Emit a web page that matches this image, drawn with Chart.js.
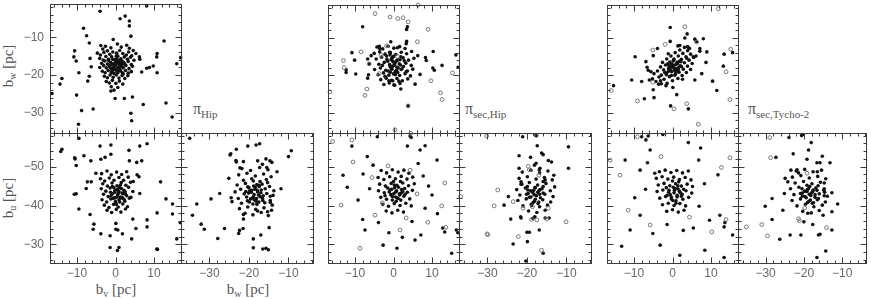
<!DOCTYPE html>
<html>
<head>
<meta charset="utf-8">
<script src="https://cdn.jsdelivr.net/npm/chart.js@4.4.1/dist/chart.umd.min.js"></script>
<style>
  html, body { margin: 0; padding: 0; background: #fff; }
  #wrap { position: relative; width: 871px; height: 299px; overflow: hidden; }
  #wrap canvas { position: absolute; left: 0; top: 0; }
  .t { position: absolute; font-family: "Liberation Serif", "DejaVu Serif", serif; color: #555;
       font-size: 15px; line-height: 1; white-space: nowrap; transform: translate(-50%, -50%); }
  .t sub { font-size: 10px; vertical-align: -3px; }
  .rot { transform: translate(-50%, -50%) rotate(-90deg); }
  .pi { position: absolute; font-family: "Liberation Serif", "DejaVu Serif", serif; color: #555;
        font-size: 16px; line-height: 1; white-space: nowrap; }
  .pi sub { font-size: 11px; vertical-align: -4px; }
</style>
</head>
<body>
<div id="wrap">
  <div class="t rot" style="left:9px;top:66px">b<sub>w</sub> [pc]</div>
  <div class="t rot" style="left:9px;top:198px">b<sub>u</sub> [pc]</div>
  <div class="t" style="left:116px;top:290px">b<sub>v</sub> [pc]</div>
  <div class="t" style="left:248px;top:290px">b<sub>w</sub> [pc]</div>
  <div class="pi" style="left:193px;top:101px">π<sub>Hip</sub></div>
  <div class="pi" style="left:465px;top:101px">π<sub>sec,Hip</sub></div>
  <div class="pi" style="left:748px;top:101px">π<sub>sec,Tycho-2</sub></div>
</div>
<script>
// axis ranges and tick labels
const bvRange = [-17, 17];
const bwRangeY = [-35.2, -1.2];
const bwRangeX = [-37.2, -3.8];
const buRange = [-58.8, -25.2];
const bvTicks = [-10, 0, 10];
const bwTicks = [-30, -20, -10];
const buTicks = [-50, -40, -30];

// Hipparcos parallaxes  [bv,bw] / [bv,bu] / [bw,bu]
const hipVW = [[-4.0,-3.1],[8.1,-1.7],[1.2,-5.1],[2.5,-4.4],[3.6,-5.7],[3.6,-7.0],[-8.3,-7.6],[-7.5,-9.6],[-6.8,-11.5],[-0.6,-10.6],[4.0,-9.7],[12.6,-11.0],[16.9,-15.4],[15.9,-17.0],[10.8,-14.3],[10.7,-15.2],[10.8,-19.4],[9.8,-17.6],[8.8,-18.0],[8.1,-18.2],[6.8,-19.2],[6.2,-15.2],[6.3,-15.8],[-10.6,-13.6],[-10.8,-15.2],[-10.2,-16.3],[-9.5,-19.4],[-13.9,-20.9],[-14.4,-22.4],[-16.5,-24.9],[-10.1,-25.3],[-7.2,-21.6],[-6.8,-20.3],[-6.3,-17.8],[-6.6,-15.6],[-8.8,-29.4],[-5.8,-29.0],[-9.6,-33.0],[-0.1,-26.2],[2.3,-26.2],[4.4,-25.8],[4.0,-30.1],[4.2,-32.1],[7.2,-27.8],[13.1,-27.4],[14.7,-31.1],[-1.2,-24.2],[-0.4,-24.0],
  [-3.8,-12.2],[-3.3,-13.1],[-2.6,-12.4],[-1.2,-12.8],[0.5,-11.8],[1.5,-12.6],[2.9,-12.1],[3.6,-12.9],[4.6,-13.5],[-4.7,-14.2],[-3.9,-14.7],[-3.0,-14.0],[-2.1,-13.6],[-1.5,-14.5],[-0.7,-13.9],[0.3,-14.2],[1.1,-13.5],[1.9,-14.3],[2.8,-14.7],[3.4,-13.9],[4.2,-14.9],[5.3,-14.3],[-4.1,-15.6],[-3.2,-16.0],[-2.5,-15.1],[-1.8,-15.8],[-1.0,-15.2],[-0.1,-15.9],[0.6,-15.0],[1.4,-15.7],[2.3,-15.2],[3.1,-15.8],[3.9,-15.3],[4.8,-16.1],[-3.6,-16.9],[-2.8,-16.3],[-2.1,-17.1],[-1.3,-16.6],[-0.6,-17.0],[0.2,-16.4],[0.9,-16.9],[1.7,-16.3],[2.4,-17.0],[3.3,-16.4],[4.1,-17.2],[-4.1,-18.0],[-3.1,-17.5],[-2.4,-18.1],[-1.6,-17.5],[-0.9,-18.2],[-0.1,-17.4],[0.6,-18.0],[1.3,-17.3],[2.0,-18.1],[2.7,-17.5],[3.5,-18.3],[4.4,-17.7],[-3.4,-19.0],[-2.7,-19.4],[-1.9,-18.8],[-1.1,-19.3],[-0.4,-18.6],[0.4,-19.2],[1.1,-18.5],[1.8,-19.4],[2.6,-18.8],[3.3,-19.5],[4.1,-19.1],[-2.9,-20.3],[-2.1,-20.7],[-1.4,-20.0],[-0.6,-20.6],[0.2,-20.0],[0.9,-20.8],[1.7,-20.1],[2.4,-20.9],[3.2,-20.2],[-2.4,-21.7],[-1.6,-22.1],[-0.8,-21.4],[0.1,-22.2],[1.0,-21.6],[1.9,-22.4],[-1.1,-23.1],[0.6,-23.3],[-0.3,-18.3],[0.7,-18.9],[-1.0,-17.2],[1.5,-16.9],[0.2,-15.0],[-0.4,-19.6],[0.9,-17.0],[-1.9,-16.1],[2.0,-19.7],[0.5,-16.2],
  [0.3,-17.0],[1.0,-17.6],[-0.5,-18.0],[0.8,-16.5],[-0.2,-16.8],[1.6,-17.8],[0.1,-18.6],[-1.0,-18.4],[1.3,-18.9],[0.6,-19.4],[-0.7,-15.9],[2.1,-16.6],[-1.5,-17.9],[0.4,-15.8],[1.9,-17.1],[-0.9,-19.0],[0.0,-17.3],[1.1,-16.1]];
const hipVU = [[-9.5,-57.3],[-14.2,-53.9],[-13.9,-54.5],[-10.5,-52.0],[-10.6,-52.3],[-10.2,-50.3],[-8.2,-52.8],[-6.4,-51.5],[-3.8,-51.9],[-2.7,-52.4],[-4.0,-55.3],[-1.2,-55.6],[-1.2,-53.2],[3.5,-54.2],[6.3,-55.3],[8.2,-55.9],[3.6,-51.5],[5.5,-51.1],[6.8,-51.5],[-5.1,-48.3],[-7.3,-46.1],[-6.3,-46.1],[-7.6,-44.4],[-10.2,-43.0],[-10.7,-42.9],[-9.5,-39.1],[-6.6,-37.7],[-5.6,-35.2],[-5.8,-33.9],[-3.8,-32.7],[-1.4,-32.2],[-1.4,-29.2],[0.5,-28.4],[0.9,-29.2],[0.1,-35.4],[0.1,-33.9],[0.6,-33.7],[1.8,-32.7],[4.2,-31.4],[4.5,-36.5],[5.3,-34.1],[8.2,-36.3],[8.2,-34.5],[6.3,-43.1],[5.6,-47.9],[6.1,-47.4],[11.7,-46.1],[13.1,-41.7],[14.8,-40.4],[10.8,-38.1],[14.8,-37.8],[16.8,-35.6],[15.9,-31.4],[10.7,-28.8],[10.9,-28.7],
  [-3.6,-48.2],[-2.2,-48.9],[-1.1,-47.9],[0.3,-48.6],[1.6,-48.0],[2.9,-48.7],[-3.9,-46.9],[-2.8,-46.3],[-1.6,-47.1],[-0.4,-46.5],[0.9,-47.2],[2.1,-46.5],[3.3,-47.3],[4.6,-46.2],[-3.3,-45.6],[-2.1,-45.0],[-0.9,-45.8],[0.4,-45.1],[1.5,-45.9],[2.7,-45.2],[3.9,-46.0],[-3.7,-44.3],[-2.5,-43.7],[-1.4,-44.5],[-0.2,-43.8],[1.0,-44.6],[2.2,-43.9],[3.4,-44.7],[4.5,-43.6],[-3.1,-42.9],[-1.9,-42.3],[-0.7,-43.1],[0.5,-42.4],[1.7,-43.2],[2.9,-42.5],[4.0,-42.1],[-3.5,-41.5],[-2.3,-40.9],[-1.2,-41.7],[0.0,-41.0],[1.2,-41.8],[2.4,-41.1],[3.6,-41.9],[-2.9,-40.1],[-1.7,-39.5],[-0.5,-40.3],[0.7,-39.6],[1.9,-40.4],[3.1,-39.7],[-2.2,-38.8],[-1.0,-38.2],[0.2,-39.0],[1.4,-38.3],[2.6,-39.1],[0.9,-43.6],[-0.3,-42.0],[1.8,-42.0],[0.4,-44.1],[-1.3,-43.4],[2.5,-43.5],[0.1,-40.7],[1.3,-45.3],[-0.8,-44.9],
  [0.6,-42.9],[1.3,-42.2],[-0.2,-43.4],[0.9,-41.5],[0.1,-42.0],[1.9,-43.0],[-0.6,-41.8],[0.5,-44.0],[1.5,-44.4],[-1.1,-42.6],[2.2,-41.6],[0.2,-40.3],[1.1,-40.9],[-0.4,-44.6],[2.6,-42.9],[0.8,-43.3]];
const hipWU = [[-35.0,-57.3],[-33.2,-40.4],[-34.3,-37.5],[-32.1,-35.2],[-31.3,-33.9],[-29.6,-41.7],[-27.4,-43.1],[-27.9,-31.5],[-26.2,-34.1],[-24.8,-53.0],[-24.6,-53.3],[-23.2,-54.5],[-20.3,-55.3],[-18.2,-55.6],[-17.3,-55.9],[-21.4,-51.3],[-22.3,-49.7],[-23.2,-51.2],[-23.3,-51.6],[-17.8,-51.5],[-15.7,-52.0],[-14.7,-51.5],[-14.2,-51.1],[-16.6,-50.6],[-15.5,-49.8],[-12.9,-48.7],[-10.0,-52.6],[-9.3,-54.1],[-11.9,-44.3],[-14.6,-42.4],[-14.6,-40.8],[-15.3,-38.4],[-14.9,-34.3],[-17.0,-32.4],[-18.9,-31.4],[-18.9,-29.1],[-16.5,-28.8],[-15.7,-29.0],[-15.1,-28.6],[-21.5,-34.1],[-22.6,-32.8],[-22.4,-33.6],[-21.4,-37.7],[-21.4,-36.5],[-24.3,-41.0],[-24.5,-42.0],[-25.1,-47.0],
  [-21.8,-49.5],[-19.6,-49.0],[-17.3,-49.8],[-15.2,-49.2],[-22.6,-47.9],[-20.5,-48.3],[-18.4,-47.6],[-16.3,-48.1],[-14.4,-47.4],[-21.4,-46.5],[-19.3,-46.9],[-17.2,-46.2],[-15.6,-46.7],[-23.0,-45.3],[-20.9,-45.7],[-18.8,-45.0],[-16.7,-45.5],[-14.8,-44.9],[-22.1,-44.2],[-20.0,-44.6],[-17.9,-43.9],[-15.9,-44.3],[-13.7,-43.8],[-21.2,-43.0],[-19.4,-43.4],[-17.6,-42.7],[-15.5,-43.1],[-22.7,-41.8],[-20.6,-42.2],[-18.7,-41.5],[-16.6,-41.9],[-14.6,-41.3],[-21.9,-40.6],[-19.9,-40.9],[-18.0,-40.3],[-16.0,-40.7],[-14.1,-40.1],[-22.4,-39.2],[-20.3,-39.6],[-18.3,-39.0],[-16.2,-39.4],[-14.3,-38.8],[-21.0,-38.0],[-19.0,-37.6],[-16.9,-38.2],[-15.1,-37.4],[-19.8,-43.8],[-18.5,-44.2],[-17.0,-43.3],[-19.1,-42.0],[-18.2,-41.1],[-20.4,-41.2],[-17.5,-45.2],[-16.4,-42.5],[-20.8,-43.6],[-18.9,-46.3],[-15.3,-45.9],[-13.9,-42.6],[-23.5,-43.5],[-17.8,-38.6],
  [-18.7,-42.8],[-17.8,-43.5],[-19.3,-43.9],[-18.1,-41.8],[-17.2,-42.3],[-19.6,-41.7],[-18.4,-44.7],[-16.9,-44.0],[-20.1,-43.2],[-17.5,-40.9],[-19.0,-40.4],[-18.0,-45.4],[-16.5,-41.3],[-20.3,-44.8],[-18.9,-42.2],[-17.4,-44.9]];

// secular parallaxes from Hipparcos
const secVW = [[-8.0,-7.0],[3.6,-7.0],[3.4,-7.7],[3.4,-10.9],[3.3,-11.5],[-0.7,-11.0],[1.0,-12.6],[-3.7,-12.2],[-3.6,-12.8],[-1.0,-13.8],[-0.9,-14.5],[-10.8,-13.9],[-10.1,-15.9],[-12.3,-18.5],[-12.3,-19.2],[-9.8,-19.6],[-6.7,-15.6],[-5.8,-14.7],[-6.5,-19.8],[-6.7,-20.7],[-6.3,-16.9],[10.3,-13.6],[8.3,-15.2],[8.5,-16.0],[6.3,-14.7],[10.2,-18.0],[10.6,-18.6],[12.6,-17.3],[16.2,-14.5],[16.8,-17.8],[6.9,-19.7],[5.6,-22.3],[1.9,-23.6],[0.1,-22.5],[-1.2,-21.4],[-0.2,-21.4],[3.8,-28.1],
  [-4.3,-12.4],[-2.8,-12.9],[-1.4,-12.2],[0.1,-12.7],[1.6,-12.3],[3.0,-12.8],[-5.0,-14.1],[-3.6,-13.7],[-2.2,-14.3],[-0.8,-13.9],[0.6,-14.4],[2.0,-13.8],[3.4,-14.2],[4.7,-13.6],[-4.5,-15.6],[-3.1,-15.1],[-1.7,-15.7],[-0.3,-15.2],[1.1,-15.8],[2.5,-15.3],[3.9,-15.9],[5.3,-15.4],[-3.8,-17.0],[-2.4,-16.5],[-1.0,-17.1],[0.4,-16.6],[1.8,-17.2],[3.2,-16.7],[4.6,-17.3],[-4.9,-18.4],[-3.4,-18.0],[-2.0,-18.6],[-0.6,-18.1],[0.8,-18.7],[2.2,-18.2],[3.6,-18.8],[5.0,-18.3],[-4.0,-19.8],[-2.6,-19.3],[-1.2,-19.9],[0.2,-19.4],[1.6,-20.0],[3.0,-19.5],[4.4,-20.1],[-3.3,-21.1],[-1.9,-20.7],[-0.5,-21.3],[0.9,-20.8],[2.3,-21.4],[3.7,-20.9],[-2.5,-22.4],[-1.1,-22.0],[0.3,-22.6],[1.7,-22.1],[-0.2,-17.5],[1.2,-18.0],[-1.5,-16.2],[0.9,-16.0],[-0.8,-19.1],[2.6,-17.6],[-2.9,-17.3],[0.5,-19.8],[1.9,-15.0],[-1.8,-14.8],[3.3,-19.0],[-0.4,-15.9],[2.8,-16.1],[-2.2,-20.2],[0.0,-14.9],[1.4,-21.5],
  [0.3,-17.2],[-0.4,-18.3],[0.9,-17.8],[-0.9,-17.6],[0.5,-18.9],[1.5,-16.9],[-0.1,-16.4],[1.1,-19.2],[-1.4,-18.8],[2.0,-18.4],[0.0,-19.6],[-0.6,-15.7],[1.7,-15.8],[0.7,-16.2]];
const secVWOpen = [[-4.8,-3.5],[-0.9,-4.4],[1.1,-4.8],[2.5,-4.6],[3.8,-5.7],[9.0,-7.7],[6.2,-11.0],[-8.4,-13.7],[-13.0,-16.0],[-12.8,-17.9],[-6.3,-16.9],[-3.2,-14.6],[-1.8,-12.1],[1.0,-14.9],[-3.7,-19.5],[-6.9,-23.6],[-7.4,-25.3],[-16.5,-24.4],[9.7,-21.4],[15.3,-19.3],[12.2,-24.6],[12.6,-26.4],[3.8,-28.1],[0.4,-34.5],[6.4,-1.2]];
const secVU = [[-4.2,-57.7],[4.3,-57.9],[4.6,-57.5],[3.6,-55.3],[8.2,-55.4],[13.3,-33.2],[16.3,-33.7],[16.7,-33.0],[-10.8,-55.3],[-13.1,-47.8],[-9.2,-41.4],[-7.4,-33.7],[6.9,-54.3],[11.3,-51.7],[12.8,-34.2],[15.1,-27.7],[5.6,-31.1],[0.9,-29.0],[-2.7,-29.8],[10.0,-42.7],[8.2,-39.3],
  [-6.8,-52.6],[-5.3,-50.4],[-7.9,-48.1],[6.4,-50.8],[7.7,-47.6],[9.1,-45.0],[-6.2,-44.3],[-8.0,-36.4],[-3.9,-35.6],[4.8,-35.9],[7.1,-32.4],[-1.2,-33.0],[2.3,-31.8],[11.4,-37.9],[-12.0,-44.7],
  [-3.2,-49.0],[-1.8,-48.4],[-0.3,-49.2],[1.2,-48.6],[2.7,-49.1],[4.0,-48.3],[-4.0,-47.2],[-2.5,-46.7],[-1.0,-47.4],[0.5,-46.9],[2.0,-47.5],[3.5,-46.8],[5.0,-47.3],[-3.6,-45.5],[-2.1,-45.0],[-0.6,-45.7],[0.9,-45.2],[2.4,-45.8],[3.9,-45.1],[5.4,-45.6],[-3.9,-43.8],[-2.4,-43.3],[-0.9,-44.0],[0.6,-43.5],[2.1,-44.1],[3.6,-43.4],[4.9,-43.9],[-3.3,-42.1],[-1.8,-41.6],[-0.3,-42.3],[1.2,-41.8],[2.7,-42.4],[4.2,-41.7],[-2.8,-40.3],[-1.3,-39.8],[0.2,-40.5],[1.7,-40.0],[3.2,-40.6],[4.6,-39.9],[-1.9,-38.6],[-0.4,-38.1],[1.1,-38.8],[2.6,-38.3],[0.3,-44.6],[1.5,-43.0],[-0.7,-42.8],[0.9,-42.0],[2.0,-43.2],[-1.5,-44.5],[0.0,-46.2],[1.8,-46.2],[3.0,-42.9],[-2.2,-42.5],[0.7,-41.1],
  [0.8,-43.8],[1.6,-42.7],[0.1,-43.1],[-0.5,-44.2],[1.3,-44.7],[2.4,-43.6],[0.5,-42.2],[-1.1,-43.5],[1.9,-41.4],[0.2,-45.3],[2.9,-44.4],[-0.3,-41.4]];
const secVUOpen = [[-10.8,-56.9],[4.5,-58.6],[12.5,-39.9],[13.6,-34.4],[-10.5,-51.2],[-13.6,-40.1],[-4.8,-37.5],[1.7,-33.7],[8.9,-35.7],[13.3,-45.8],[4.3,-49.1],[-1.4,-50.2],[-8.7,-29.0],[-15.8,-56.5],[-5.6,-47.2],[6.1,-43.0],[-2.9,-40.7],[3.3,-36.8]];
const secWU = [[-21.1,-57.7],[-18.0,-58.2],[-17.7,-58.0],[-17.4,-55.4],[-9.5,-55.1],[-9.5,-49.6],[-22.0,-52.8],[-19.1,-52.4],[-16.3,-53.5],[-15.9,-53.1],[-14.6,-51.6],[-13.8,-51.2],[-17.7,-50.9],[-18.1,-50.4],[-22.0,-49.6],[-16.7,-49.6],[-16.9,-49.2],[-13.2,-47.8],[-15.4,-46.6],[-15.9,-46.2],[-21.5,-46.1],[-21.3,-45.5],[-24.7,-42.3],[-25.8,-40.1],[-24.1,-36.5],[-21.6,-37.1],[-21.5,-36.8],[-18.5,-36.7],[-18.0,-37.1],[-15.4,-36.8],[-14.4,-36.8],[-16.9,-33.7],[-20.0,-33.1],[-19.4,-33.1],[-19.9,-30.7],[-23.5,-30.1],[-15.9,-27.7],[-20.3,-25.7],
  [-21.2,-48.6],[-19.0,-49.1],[-16.8,-48.4],[-14.7,-48.9],[-22.0,-47.0],[-19.9,-47.4],[-17.7,-46.8],[-15.6,-47.2],[-13.6,-46.6],[-21.5,-45.5],[-19.4,-45.9],[-17.3,-45.3],[-15.2,-45.7],[-22.6,-44.1],[-20.4,-44.5],[-18.3,-43.9],[-16.2,-44.3],[-14.1,-43.8],[-21.8,-42.7],[-19.7,-43.1],[-17.6,-42.5],[-15.5,-42.9],[-13.4,-42.3],[-22.3,-41.3],[-20.2,-41.7],[-18.1,-41.1],[-16.0,-41.5],[-14.0,-40.9],[-21.0,-39.9],[-18.9,-40.3],[-16.8,-39.7],[-14.8,-40.1],[-19.6,-38.6],[-17.5,-38.2],[-15.4,-38.8],[-18.6,-43.4],[-17.0,-43.8],[-19.0,-42.2],[-17.9,-44.6],[-16.6,-42.0],[-20.1,-42.9],[-18.4,-40.8],[-15.9,-44.9],[-17.2,-40.5],[-19.8,-44.0],[-13.0,-44.8],
  [-18.2,-42.8],[-17.3,-43.4],[-19.1,-43.8],[-17.9,-41.6],[-16.8,-42.9],[-19.4,-42.1],[-18.0,-44.6],[-16.7,-44.1],[-19.9,-44.9],[-17.0,-40.9],[-18.8,-40.0],[-15.9,-43.2]];
const secWUOpen = [[-30.2,-57.9],[-17.6,-58.0],[-19.7,-50.1],[-19.4,-49.2],[-17.0,-47.8],[-27.4,-44.0],[-28.3,-39.9],[-23.5,-41.0],[-21.0,-39.3],[-18.6,-39.7],[-14.6,-39.3],[-22.2,-32.0],[-10.1,-35.8],[-30.1,-32.7],[-29.9,-32.5],[-16.3,-28.5],[-36.8,-42.3],[-18.8,-36.4],[-17.5,-36.3],[-15.0,-36.5]];

// secular parallaxes from Tycho-2
const tycVW = [[-0.6,-7.2],[3.8,-8.9],[3.2,-10.0],[5.8,-10.3],[6.2,-10.9],[8.0,-10.2],[-0.6,-10.9],[1.4,-12.1],[1.9,-12.0],[3.9,-12.3],[4.2,-12.6],[7.1,-12.8],[7.1,-13.5],[8.9,-13.7],[-3.9,-12.8],[-5.0,-14.7],[-9.7,-15.0],[-6.9,-16.3],[-6.6,-17.8],[-6.3,-18.6],[-5.6,-19.0],[-10.6,-21.2],[-8.0,-21.6],[-6.0,-21.2],[-5.0,-23.8],[-7.3,-26.2],[-4.8,-25.9],[-15.3,-22.7],[-3.1,-21.4],[-2.9,-22.2],[-1.7,-22.7],[0.1,-23.2],[1.1,-25.1],[-0.5,-28.1],[4.1,-28.9],[5.8,-21.2],[7.6,-19.5],[8.7,-16.5],[10.4,-21.5],[11.5,-24.0],[13.4,-14.3],[13.2,-17.5],[15.6,-13.9],[6.1,-14.8],[5.4,-15.0],[3.7,-15.4],
  [-5.2,-20.9],[-4.3,-21.6],[-3.5,-20.4],[-4.8,-19.5],[-3.9,-18.8],[-2.9,-19.9],[-2.2,-21.0],[-1.4,-22.1],[-3.1,-17.7],[-2.3,-18.5],[-1.6,-19.4],[-0.8,-20.3],[0.0,-21.4],[-2.6,-16.5],[-1.8,-17.2],[-1.0,-18.1],[-0.2,-19.0],[0.6,-19.9],[1.4,-20.8],[-1.5,-15.6],[-0.7,-16.4],[0.1,-17.3],[0.9,-18.2],[1.7,-19.1],[2.5,-20.0],[-0.4,-14.8],[0.4,-15.6],[1.2,-16.5],[2.0,-17.4],[2.8,-18.3],[3.6,-19.2],[0.7,-13.9],[1.5,-14.8],[2.3,-15.7],[3.1,-16.6],[3.9,-17.5],[4.7,-18.4],[1.9,-13.2],[2.7,-14.1],[3.5,-15.0],[4.3,-15.9],[5.1,-16.8],[3.1,-12.5],[3.9,-13.4],[4.7,-14.3],[5.5,-15.2],[-0.5,-17.8],[0.5,-18.6],[1.0,-17.0],[-1.2,-16.9],[0.2,-16.1],[1.6,-17.9],[-0.3,-20.0],[2.2,-16.3],[-2.0,-19.2],[0.8,-19.5],[-1.1,-14.2],[2.6,-21.0],[-3.6,-22.3],[4.4,-12.8],
  [0.0,-17.6],[0.7,-17.2],[-0.6,-18.4],[1.3,-16.8],[-1.1,-18.9],[0.4,-18.1],[1.8,-16.2],[-0.2,-16.9],[2.3,-17.6],[-1.6,-19.8],[1.0,-19.0],[0.3,-15.9],[-0.9,-17.4],[1.5,-18.4]];
const tycVWOpen = [[11.9,-2.2],[3.2,-7.0],[-1.9,-11.7],[6.3,-11.1],[-5.1,-13.2],[15.1,-13.0],[13.9,-19.0],[-5.1,-21.8],[-15.9,-24.0],[-9.1,-26.8],[3.7,-27.5],[0.4,-28.9],[14.9,-26.4],[6.7,-33.0]];
const tycVU = [[-6.9,-56.9],[-2.5,-58.3],[-6.3,-57.9],[-8.0,-57.7],[4.1,-56.2],[13.6,-35.6],[13.4,-34.5],[15.6,-32.4],[13.4,-26.6],[-12.3,-51.7],[-8.4,-49.1],[-5.8,-54.3],[11.8,-47.9],[12.3,-37.5],[8.4,-28.5],[1.9,-27.2],[-3.2,-29.8],[-11.0,-33.7],[-8.4,-37.5],
  [-6.5,-51.0],[-4.6,-48.3],[6.8,-51.7],[8.3,-45.6],[-7.0,-44.2],[-9.8,-42.0],[6.9,-39.8],[5.4,-34.2],[-5.1,-32.8],[-1.4,-35.1],[2.8,-33.6],[9.6,-36.2],[-13.2,-29.5],[7.3,-54.8],
  [-3.4,-48.7],[-1.9,-49.1],[-0.4,-48.5],[1.1,-49.0],[2.6,-48.4],[4.1,-48.9],[-4.2,-47.0],[-2.7,-47.4],[-1.2,-46.8],[0.3,-47.3],[1.8,-46.7],[3.3,-47.2],[4.8,-46.6],[-3.7,-45.3],[-2.2,-45.7],[-0.7,-45.1],[0.8,-45.6],[2.3,-45.0],[3.8,-45.5],[5.2,-44.9],[-4.0,-43.6],[-2.5,-44.0],[-1.0,-43.4],[0.5,-43.9],[2.0,-43.3],[3.5,-43.8],[5.0,-43.2],[-3.3,-41.9],[-1.8,-42.3],[-0.3,-41.7],[1.2,-42.2],[2.7,-41.6],[4.2,-42.1],[-2.6,-40.2],[-1.1,-40.6],[0.4,-40.0],[1.9,-40.5],[3.4,-39.9],[-1.5,-38.5],[0.0,-38.9],[1.5,-38.3],[3.0,-38.8],[0.2,-44.7],[1.4,-44.3],[-0.6,-42.8],[0.9,-41.2],[2.5,-42.9],[-1.6,-44.6],[0.0,-46.3],[1.6,-46.1],
  [0.4,-43.3],[1.2,-42.6],[-0.3,-42.2],[0.7,-44.4],[1.8,-43.7],[-0.9,-43.9],[0.1,-41.3],[2.3,-42.4],[-1.4,-42.6],[1.4,-45.1],[0.9,-40.6],[2.9,-44.2]];
const tycVUOpen = [[-9.1,-57.7],[14.9,-52.3],[12.7,-49.8],[13.9,-36.4],[-16.2,-51.7],[-13.6,-47.8],[-11.5,-38.8],[-5.8,-35.0],[10.2,-33.2],[-3.0,-52.6],[4.4,-37.0]];
const tycWU = [[-23.9,-57.5],[-20.6,-58.0],[-20.3,-58.3],[-18.1,-56.2],[-22.8,-53.3],[-27.3,-52.4],[-18.8,-54.3],[-15.2,-52.7],[-16.6,-51.0],[-15.8,-51.0],[-13.2,-51.0],[-19.2,-51.9],[-23.4,-49.1],[-21.8,-49.2],[-21.4,-48.4],[-16.5,-48.7],[-24.9,-47.0],[-24.2,-46.1],[-25.1,-43.1],[-28.3,-41.8],[-30.1,-39.8],[-25.5,-38.8],[-28.3,-36.4],[-26.3,-31.3],[-23.6,-32.4],[-20.8,-32.4],[-16.2,-32.4],[-15.8,-32.6],[-20.0,-35.8],[-17.7,-35.1],[-19.0,-38.0],[-15.0,-37.5],[-12.7,-38.4],[-12.7,-33.7],[-11.2,-40.4],[-12.7,-43.3],[-14.7,-45.8],[-14.7,-44.3],[-14.6,-43.4],[-14.7,-42.5],[-14.3,-28.3],[-16.6,-26.6],
  [-22.0,-48.9],[-19.8,-49.3],[-17.6,-48.7],[-15.4,-49.1],[-23.0,-47.3],[-20.8,-47.7],[-18.6,-47.1],[-16.4,-47.5],[-14.3,-46.9],[-22.3,-45.8],[-20.1,-46.2],[-17.9,-45.6],[-15.7,-46.0],[-23.5,-44.3],[-21.3,-44.7],[-19.1,-44.1],[-16.9,-44.5],[-14.8,-43.9],[-22.6,-42.8],[-20.4,-43.2],[-18.2,-42.6],[-16.0,-43.0],[-13.9,-42.4],[-23.1,-41.3],[-20.9,-41.7],[-18.7,-41.1],[-16.5,-41.5],[-14.4,-40.9],[-21.8,-39.9],[-19.6,-40.3],[-17.4,-39.7],[-15.2,-40.1],[-20.3,-38.5],[-18.1,-38.1],[-16.0,-38.7],[-19.2,-43.6],[-17.6,-44.0],[-19.7,-42.3],[-18.5,-44.9],[-17.1,-42.1],[-20.9,-43.1],[-19.0,-40.8],[-16.3,-45.1],[-17.8,-40.6],[-20.5,-44.3],[-18.0,-43.3],
  [-18.6,-42.9],[-17.7,-43.6],[-19.4,-42.0],[-18.3,-41.4],[-17.1,-42.8],[-19.8,-43.7],[-18.8,-44.3],[-16.6,-43.9],[-20.4,-42.4],[-17.5,-40.7],[-19.2,-45.2],[-16.2,-41.8]];
const tycWUOpen = [[-28.9,-57.5],[-28.7,-52.3],[-19.2,-48.3],[-35.0,-34.5],[-31.0,-35.1],[-29.5,-32.2],[-21.4,-36.6],[-21.2,-36.1],[-19.8,-39.4],[-14.1,-34.3]];

const W = 871, H = 299;
const fmt = (v) => (v < 0 ? "\u2212" + (-v) : String(v));

// frame with inward ticks, PGPLOT style
const framePlugin = {
  id: "frame",
  afterDraw(chart) {
    const o = chart.options.plugins.frame;
    const { ctx, chartArea: a } = chart;
    const xs = chart.scales.x, ys = chart.scales.y;
    const L = Math.round(a.left) + 0.5, R = Math.round(a.right) + 0.5;
    const T = Math.round(a.top) + 0.5, B = Math.round(a.bottom) + 0.5;
    ctx.save();
    ctx.strokeStyle = "#3c3c3c";
    ctx.lineWidth = 1;
    ctx.beginPath();
    for (let v = Math.ceil(xs.min / 2) * 2; v <= xs.max; v += 2) {
      const p = Math.round(xs.getPixelForValue(v)) + 0.5;
      const len = v % 10 === 0 ? 6 : 3;
      ctx.moveTo(p, B); ctx.lineTo(p, B - len);
      ctx.moveTo(p, T); ctx.lineTo(p, T + len);
    }
    for (let v = Math.ceil(ys.min / 2) * 2; v <= ys.max; v += 2) {
      const p = Math.round(ys.getPixelForValue(v)) + 0.5;
      const len = v % 10 === 0 ? 6 : 3;
      ctx.moveTo(L, p); ctx.lineTo(L + len, p);
      ctx.moveTo(R, p); ctx.lineTo(R - len, p);
    }
    ctx.stroke();
    ctx.strokeRect(L, T, R - L, B - T);
    ctx.fillStyle = "#666";
    ctx.font = "12px 'Liberation Sans', Arial, sans-serif";
    if (o.xTicks) {
      ctx.textAlign = "center";
      ctx.textBaseline = "middle";
      o.xTicks.forEach((v) => ctx.fillText(fmt(v), xs.getPixelForValue(v), 274));
    }
    if (o.yTicks) {
      ctx.textAlign = "right";
      ctx.textBaseline = "middle";
      o.yTicks.forEach((v) => ctx.fillText(fmt(v), a.left - 6, ys.getPixelForValue(v)));
    }
    ctx.restore();
  }
};

const toXY = (arr) => arr.map((p) => ({ x: p[0], y: p[1] }));

function panel(box, xr, yr, yRev, filled, open, frame) {
  const c = document.createElement("canvas");
  c.width = W; c.height = H;
  document.getElementById("wrap").appendChild(c);
  const datasets = [];
  if (open) {
    datasets.push({ data: toXY(open), pointStyle: "circle", pointRadius: 1.9,
      pointBackgroundColor: "rgba(0,0,0,0)", pointBorderColor: "#777", pointBorderWidth: 1, clip: 4 });
  }
  datasets.push({ data: toXY(filled), pointStyle: "circle", pointRadius: 1.8,
    pointBackgroundColor: "#111", pointBorderWidth: 0, clip: 4 });
  new Chart(c, {
    type: "scatter",
    data: { datasets },
    options: {
      responsive: false,
      animation: false,
      events: [],
      layout: { padding: { left: box[0], top: box[1], right: W - box[2], bottom: H - box[3] } },
      scales: {
        x: { type: "linear", min: xr[0], max: xr[1], display: false },
        y: { type: "linear", min: yr[0], max: yr[1], reverse: yRev, display: false }
      },
      plugins: { legend: { display: false }, tooltip: { enabled: false }, frame: frame }
    },
    plugins: [framePlugin]
  });
}

const groups = [
  { dx: 0, vw: hipVW, vu: hipVU, wu: hipWU, first: true },
  { dx: 278, vw: secVW, vwo: secVWOpen, vu: secVU, vuo: secVUOpen, wu: secWU, wuo: secWUOpen },
  { dx: 557, vw: tycVW, vwo: tycVWOpen, vu: tycVU, vuo: tycVUOpen, wu: tycWU, wuo: tycWUOpen }
];

groups.forEach((g) => {
  const x0 = 50 + g.dx, xm = 181 + g.dx, x1 = 313 + g.dx;
  panel([x0, 1, xm, 132.5], bvRange, bwRangeY, false, g.vw, g.vwo,
    { yTicks: g.first ? bwTicks : null });
  panel([x0, 132.5, xm, 263], bvRange, buRange, true, g.vu, g.vuo,
    { xTicks: bvTicks, yTicks: g.first ? buTicks : null });
  panel([xm, 132.5, x1, 263], bwRangeX, buRange, true, g.wu, g.wuo,
    { xTicks: bwTicks });
});
</script>
</body>
</html>
